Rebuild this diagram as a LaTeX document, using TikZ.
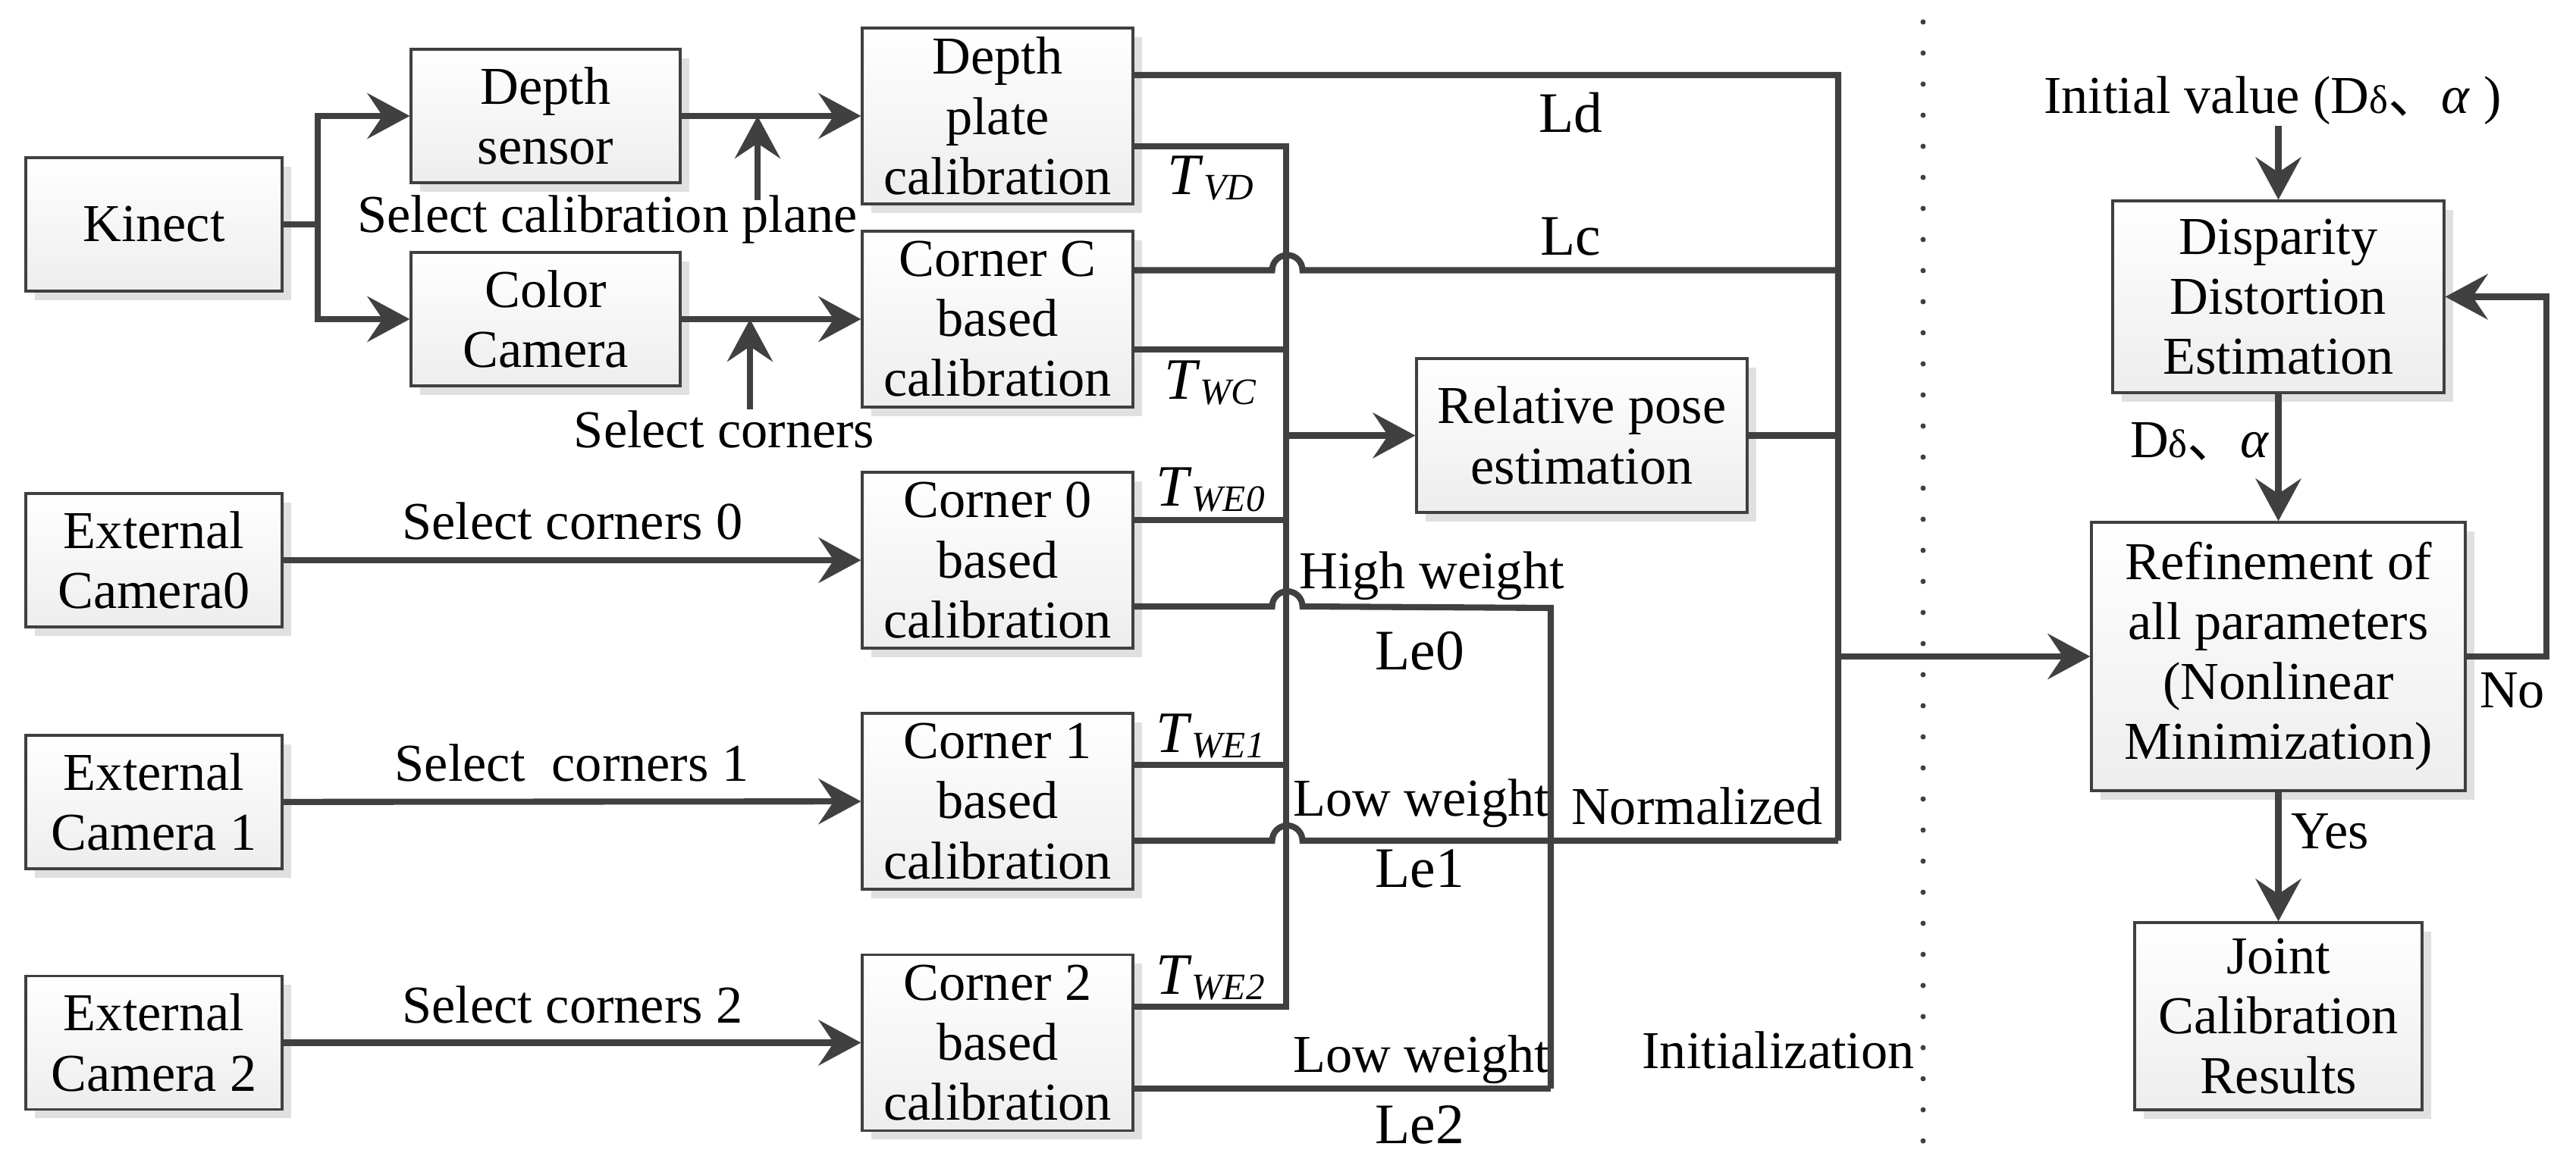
\documentclass[tikz,border=0pt]{standalone}
\usepackage{fontspec}
\setmainfont{LiberationSerif}[Extension=.ttf,UprightFont=*-Regular,ItalicFont=*-Italic,BoldFont=*-Bold,BoldItalicFont=*-BoldItalic]
\newfontfamily\cjk{Noto Sans CJK SC}
\usetikzlibrary{arrows.meta,shadows}
\definecolor{ln}{HTML}{404040}
\newcommand{\tlab}[1]{{\fontsize{22}{24}\selectfont\textit{T}\raisebox{-0.1em}{\fontsize{14}{16}\selectfont\textit{#1}}}}

\begin{document}
\begin{tikzpicture}[font=\fontsize{20}{22.5}\selectfont]
\tikzstyle{box}=[draw=ln,line width=0.9pt,top color=white,bottom color=black!7,align=center,inner sep=2pt,
  drop shadow={shadow xshift=0.12cm,shadow yshift=-0.12cm,fill=black!12,opacity=1}]
\tikzstyle{src}=[box,minimum width=3.38cm,minimum height=1.76cm]
\tikzstyle{cal}=[box,minimum width=3.57cm,minimum height=2.32cm]
\tikzstyle{wire}=[draw=ln,line width=2.3pt]
\tikzstyle{arr}=[wire,-{Stealth[length=0.56cm,width=0.6cm,inset=0.2cm]}]
\tikzstyle{lbl}=[inner sep=0pt]
\tikzstyle{big}=[lbl,font=\fontsize{21.5}{24}\selectfont]

\useasboundingbox (0,0) rectangle (33.97,15.5);

  \node[src] (kin) at (2.03,12.54) {Kinect};
  \node[src,minimum width=3.55cm] (ds) at (7.195,13.97) {Depth\\sensor};
  \node[src,minimum width=3.55cm] (cc) at (7.195,11.29) {Color\\Camera};
  \node[src] (e0) at (2.03,8.11) {External\\Camera0};
  \node[src] (e1) at (2.03,4.92) {External\\Camera 1};
  \node[src] (e2) at (2.03,1.745) {External\\Camera 2};

  \node[cal] (dpc) at (13.155,13.97) {Depth\\plate\\calibration};
  \node[cal] (ccb) at (13.155,11.29) {Corner C\\based\\calibration};
  \node[cal] (c0) at (13.155,8.11) {Corner 0\\based\\calibration};
  \node[cal] (c1) at (13.155,4.93) {Corner 1\\based\\calibration};
  \node[cal] (c2) at (13.155,1.745) {Corner 2\\based\\calibration};

  \node[box,minimum width=4.36cm,minimum height=2.03cm] (rpe) at (20.86,9.755) {Relative pose\\estimation};
  \node[box,minimum width=4.37cm,minimum height=2.53cm] (dde) at (30.045,11.585) {Disparity\\Distortion\\Estimation};
  \node[box,minimum width=4.93cm,minimum height=3.54cm] (ref) at (30.045,6.84) {Refinement of\\all parameters\\(Nonlinear\\Minimization)};
  \node[box,minimum width=3.79cm,minimum height=2.47cm] (jcr) at (30.045,2.095) {Joint\\Calibration\\Results};

  \node[lbl] (iv) at (29.97,14.17) {Initial value (D{\fontsize{15}{16}\selectfont δ}{\cjk 、}\textit{α} )};
  \node[lbl] (scp) at (8.01,12.60) {Select calibration plane};
  \node[lbl] (sco) at (9.55,9.84) {Select corners};
  \node[lbl] (s0) at (7.55,8.63) {Select corners 0};
  \node[lbl] (s1) at (7.54,5.44) {Select\ \ corners 1};
  \node[lbl] (s2) at (7.55,2.25) {Select corners 2};

  \node[big] (ld) at (20.71,14.01) {Ld};
  \node[big] (lc) at (20.71,12.38) {Lc};
  \node[big] (le0) at (18.72,6.91) {Le0};
  \node[big] (le1) at (18.72,4.04) {Le1};
  \node[big] (le2) at (18.72,0.66) {Le2};
  \node[lbl] (tvd) at (15.96,13.15) {\tlab{VD}};
  \node[lbl] (twc) at (15.96,10.45) {\tlab{WC}};
  \node[lbl] (twe0) at (15.96,9.04) {\tlab{WE0}};
  \node[lbl] (twe1) at (15.96,5.79) {\tlab{WE1}};
  \node[lbl] (twe2) at (15.96,2.60) {\tlab{WE2}};
  \node[lbl] (hw) at (18.88,7.90) {High weight};
  \node[lbl] (lw1) at (18.74,4.90) {Low weight};
  \node[lbl] (lw2) at (18.74,1.52) {Low weight};
  \node[lbl] (nrm) at (22.38,4.87) {Normalized};
  \node[lbl] (ini) at (23.45,1.65) {Initialization};
  \node[lbl] (dal) at (29.01,9.68) {D{\fontsize{15}{16}\selectfont δ}{\cjk 、}\textit{α}};
  \node[lbl] (no) at (33.13,6.39) {No};
  \node[lbl] (yes) at (30.73,4.53) {Yes};

  \coordinate (kj) at (4.19,12.54);
  \coordinate (sp) at (9.99,12.86);
  \coordinate (sc) at (9.89,10.10);
  \coordinate (bt) at (16.96,13.57);
  \coordinate (bb) at (16.96,2.22);
  \coordinate (rt) at (24.24,14.51);
  \coordinate (rb) at (24.24,4.41);
  \coordinate (wt) at (20.45,7.48);
  \coordinate (wb) at (20.45,1.14);
  \coordinate (mo) at (24.24,6.84);

  \draw[wire] (kin.east) -- (kj);
  \draw[arr] (kj) |- (ds.west);
  \draw[arr] (kj) |- (cc.west);
  \foreach \from/\to in {ds/dpc, cc/ccb, e0/c0, e1/c1, e2/c2, dde/ref, ref/jcr, mo/ref}
\draw[arr] (\from) -- (\to);
  \draw[arr] (sp) -- (sp |- ds.east);
  \draw[arr] (sc) -- (sc |- cc.east);

  \draw[wire] ([yshift=-0.40cm]dpc.east) -- (bt) -- (bb) -- ([yshift=0.475cm]c2.east);
  \foreach \b/\s in {ccb/-0.4, c0/0.53, c1/0.48}
\draw[wire] ([yshift=\s cm]\b.east) -- ++(2.02,0);
  \draw[arr] (bt |- rpe.west) -- (rpe.west);

  \draw[wire] ([yshift=0.54cm]dpc.east) -- (rt) -- (rb);
  \draw[wire] ([yshift=0.645cm]ccb.east) -- ++(1.82,0) arc[start angle=180,end angle=0,radius=0.2] -- ++(7.08,0);
  \draw[wire] (rpe.east) -- (rpe.east -| rt);
  \draw[wire] ([yshift=-0.61cm]c0.east) -- ++(1.82,0) arc[start angle=180,end angle=0,radius=0.2] -- (wt) -- (wb);
  \draw[wire] ([yshift=-0.52cm]c1.east) -- ++(1.82,0) arc[start angle=180,end angle=0,radius=0.2] -- (rb);
  \draw[wire] ([yshift=-0.605cm]c2.east) -- (wb);

  \draw[arr] (dde |- iv.south) -- (dde.north);
  \draw[arr] (ref.east) -- ++(1.05,0) |- (dde.east);

  \draw[ln,line width=0.07cm,line cap=round,dash pattern=on 0pt off 0.41cm] (25.36,15.21) -- (25.36,0.37);

\end{tikzpicture}
\end{document}
